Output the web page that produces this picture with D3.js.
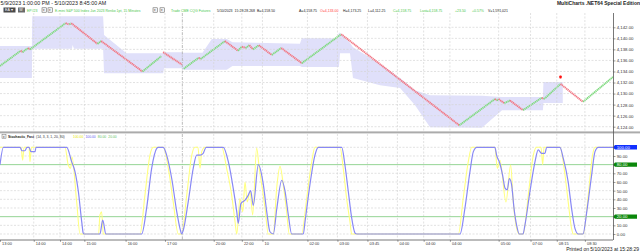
<!DOCTYPE html>
<html>
<head>
<meta charset="utf-8">
<script src="https://cdn.jsdelivr.net/npm/d3@7"></script>
<style>
  html, body { margin: 0; padding: 0; background: #fff; }
  svg { display: block; font-family: "Liberation Sans", Arial, sans-serif; }
</style>
</head>
<body>
<div id="chart"></div>
<script>
// ---- data ----
const titleRange = '5/9/2023 1:00:00 PM - 5/10/2023 8:45:00 AM';
const appName = 'MultiCharts .NET64 Special Edition';
const printedOn = 'Printed on 5/10/2023 at 15:28:29';

const toolbarText = ['EP#23', 'E-mini S&P 500 Index Jun 2023  Renko 1pt, 15 Minutes', 'Trade  CME  CQG  Futures',
  '5/10/2023', '15:28:28.268', 'B=4,158.50', 'A=4,158.75', 'O=4,133.00', 'H=4,173.25', 'L=4,112.25',
  'C=4,158.75', 'Last=4,158.75', '+23.50', '+0.57%', 'V=1,591,021'];
const toolbarKind = ['up', 'up', 'up', 'plain', 'plain', 'plain', 'plain', 'down', 'plain', 'plain',
  'up', 'up', 'up', 'up', 'plain'];

// renko reversal points (bar number, brick close); null = session gap
const renkoBar = [0, 11, 12, 15, 16, 35, 37, 38, 52, 54, 76, 86, null, 87, 97, null, 98, 106, 107, 120, 127,
  129, 131, 133, 135, 138, 145, 150, 161, 182, 245, 264, 265, 266, 269, 272, 279, 289, 290, 291, 299, 311, 327];
const renkoClose = [4135.0, 4137.75, 4137.5, 4138.25, 4138.0, 4142.75, 4142.5, 4142.75, 4139.0, 4139.5, 4134.0,
  4136.75, null, 4137.5, 4135.25, null, 4134.5, 4136.5, 4136.25, 4139.5, 4137.75, 4138.5, 4138.25, 4138.75,
  4138.0, 4138.75, 4137.0, 4138.25, 4135.5, 4140.75, 4124.25, 4129.0, 4128.75, 4129.0, 4128.25, 4128.75,
  4127.0, 4129.25, 4129.0, 4129.25, 4131.75, 4128.5, 4133.0];

// shaded envelope
const bandBar = [0, 17, 17.2, 38.4, 38.7, 39.5, 55, 55.5, 67.5, 87, 87.5, 97, 97.5, 108, 113, 121, 124, 160, 161,
  179.8, 180.8, 181.4, 186.7, 188.3, 202.7, 213.4, 221.4, 229.4, 257.1, 267.8, 289.6, 289.9, 300.2];
const bandHigh = [4138.6, 4138.6, 4144, 4144, 4144, 4144, 4144, 4140.6, 4137.3, 4137.3, 4137.5, 4137.5, 4137.4,
  4137.4, 4139.9, 4139.9, 4139.3, 4139.0, 4140.0, 4140.0, 4141.0, 4141.0, 4139.2, 4138.4, 4135.4, 4132.8,
  4130.6, 4129.7, 4129.6, 4129.4, 4129.4, 4132.1, 4132.1];
const bandLow = [4132.8, 4132.8, 4138.1, 4138.1, 4138.8, 4138.1, 4138.1, 4133.7, 4133.7, 4133.7, 4134.6, 4134.6,
  4134.3, 4134.3, 4134.3, 4134.3, 4135.0, 4135.0, 4134.8, 4134.8, 4134.8, 4137.3, 4137.3, 4132.8, 4131.5,
  4131.0, 4127.9, 4123.9, 4123.8, 4127.0, 4127.0, 4128.3, 4128.3];

const signalBar = [299];
const signalPrice = [4133.0];

// Stochastic_Fast: [bar, value]
const fastK = [[0,100],[11.2,100],[12.1,85],[12.8,100],[15.5,100],[16,83.5],[16.8,100],[34.7,100],[36.4,79.6],
  [37.7,75.8],[38.4,89],[40.9,37],[42.7,0],[52.6,0],[53.3,22],[54.2,25.6],[55.1,0],[74.7,0],[77.3,44.6],[80,91],
  [81.8,100],[87.1,100],[89.8,75.8],[92.4,37],[95.1,0],[96.9,0],[99.6,44.6],[102.3,91],[104,100],[105.6,100],
  [106.7,75.8],[107.6,95],[109.3,100],[118.3,100],[120.9,75.8],[123.6,44.6],[125.4,14],[126.3,0],[128,41],
  [129.5,25.6],[130.7,60],[131.9,37],[133.4,49],[134.8,22],[136.9,99],[138.3,75.8],[139.6,57],[141.4,29.6],
  [143.1,0],[145.8,0],[147.6,53],[149.4,78],[151.1,57],[152.9,25.6],[154.3,0],[160.9,0],[163.6,41],[166.3,83.5],
  [168,100],[181.4,100],[183.1,75.8],[184.9,41],[186.7,14],[187.6,0],[244.5,0],[247.1,41],[249.8,83.5],
  [251.6,100],[264,100],[265.3,75.8],[266.7,85],[269.9,37],[272.4,79.6],[273.8,37],[275.6,6.5],[277,0],
  [279.1,0],[281.8,44.6],[284.5,91],[286.3,100],[288.6,100],[289.5,80],[290.2,100],[298.7,100],[301.4,68],
  [303.1,37],[304.9,6.5],[305.8,0],[311.1,0],[313.8,44.6],[316.1,91],[317.4,100],[327,100]];
const fastD = [[0,80],[1.8,100],[10.7,100],[11.7,96],[13.3,96],[14.4,100],[15.5,100],[16.5,95],[18.7,95],
  [19.2,100],[35.6,100],[38.2,83.5],[40,72],[41.8,49],[43.6,14],[44.4,1],[44.8,0],[53.3,0],[54.8,16],[56.5,0],
  [75.6,0],[78.2,29.6],[80.9,75.8],[83.6,98.8],[84.4,100],[87.1,100],[88.9,91],[91.6,64],[94.3,25.6],[96,6.5],
  [96.9,0],[97.8,4.6],[100.4,37],[103.1,76],[104.9,91],[106.7,91],[108.4,93],[109.9,100],[119.1,100],
  [121.8,83.5],[124.4,53],[126.3,25.6],[127.1,12.3],[128.5,35],[130.7,39],[132.4,44.6],[133.7,50],[135.1,33],
  [137.8,80],[140.4,58],[142.3,25.6],[144,2.6],[145.8,0],[147.7,30],[150.3,62],[152,50],[153.8,22],[155.6,0],
  [161.8,0],[162.7,14],[165.4,58],[168,91],[169.8,100],[182.3,100],[184,79.6],[185.8,49],[187.6,18.5],
  [189.4,1],[190.3,0],[245.4,0],[248,29.6],[250.7,72],[252.5,95],[254.3,100],[264,100],[264.9,91],[266.7,81],
  [268.1,68],[269.4,53],[270.6,51],[271.7,64],[272.9,57],[274.2,29.6],[275.6,10],[277,0],[279,0],[280,10],
  [282.7,49],[285.4,83.5],[287.1,97],[288.9,93],[290.7,93],[291.6,100],[298.7,100],[300.5,87],[303.1,60],
  [304.9,29.6],[306.7,6.5],[308.5,0],[311,0],[313,25.6],[315.6,68],[317.4,95],[319.1,100],[327,100]];

const priceTicks = [4124, 4126, 4128, 4130, 4132, 4134, 4136, 4138, 4140, 4142];
const stochTicks = [0, 10, 20, 30, 40, 50, 60, 70, 80, 90, 100];
const stochLevels = [100, 80, 20];
const stochParams = ['Stochastic_Fast', '(14, 3, 3, 1, 20, 80)', '100.00', '100.00', '80.00', '20.00'];

const timeTickBar = [0, 18, 32, 45, 67, 88, 114, 129, 140, 164, 180, 196, 212, 226, 240, 266, 283, 297, 312];
const timeTickLabel = ['13:00', '14:00', '14:00', '15:00', '16:00', '17:00', '20:00', '22:00', '10', '02:00',
  '03:00', '03:45', '04:00', '04:00', '04:00', '05:00', '07:00', '08:15', '08:30'];
const sessionBreakBar = [97];

// ---- layout ----
const w = 640, h = 252;
const plotRight = 613;
const main = { top: 13, bottom: 131 };
const stoch = { top: 134, bottom: 239.5 };
const col = { up: '#80da80', down: '#f27884', text: '#222', grid: '#d6d6d6', band: '#e0e0fa',
  k: '#ffff80', d: '#8888f5', level: '#8ad08a', tbUp: '#4cc84c', tbDown: '#ff3b3b' };

const svg = d3.select('#chart').append('svg')
  .attr('width', w).attr('height', h)
  .attr('viewBox', `0 0 ${w} ${h}`);

const x = d3.scaleLinear().domain([0, 327]).range([0, plotRight]);
const yMain = d3.scaleLinear().domain([4124, 4142]).range([126.7, 27.3]);
const yStoch = d3.scaleLinear().domain([0, 100]).range([234, 147.3]);

// lay texts out left to right: wanted x, but never on top of the previous one
function flowTexts(g, texts, wantX, y, size, fill, weight) {
  let end = -Infinity;
  texts.forEach((t, i) => {
    const tx = g.append('text').attr('y', y).attr('font-size', size)
      .attr('font-weight', weight ? weight(i) : 'normal')
      .attr('fill', fill(i)).text(t);
    const xi = Math.max(wantX[i], end + 2);
    tx.attr('x', xi);
    end = xi + tx.node().getComputedTextLength();
  });
}

// clip areas
const defs = svg.append('defs');
defs.append('clipPath').attr('id', 'clip-main').append('rect')
  .attr('x', 0).attr('y', main.top).attr('width', plotRight).attr('height', main.bottom - main.top);
defs.append('clipPath').attr('id', 'clip-stoch').append('rect')
  .attr('x', 0).attr('y', stoch.top).attr('width', plotRight).attr('height', stoch.bottom - stoch.top);

// ---- header ----
svg.append('text').attr('x', 0.5).attr('y', 5.2)
  .attr('font-size', 5.3).attr('fill', col.text).text(titleRange);
svg.append('text').attr('x', 640).attr('y', 5.2).attr('text-anchor', 'end')
  .attr('font-size', 5).attr('font-weight', 'bold').attr('fill', '#222').text(appName);

// toolbar buttons
const tb = svg.append('g');
tb.append('rect').attr('x', 3.5).attr('y', 7.5).attr('width', 12).attr('height', 5).attr('fill', '#4a4a4a');
tb.append('text').attr('x', 5).attr('y', 11.4).attr('font-size', 3.6).attr('fill', '#fff').text('EA ▾');
tb.append('rect').attr('x', 18).attr('y', 7.5).attr('width', 7).attr('height', 5).attr('fill', '#6a6a6a');
tb.append('text').attr('x', 19.3).attr('y', 11.4).attr('font-size', 3.6).attr('fill', '#fff').text('W');
[42, 48, 153, 160].forEach(bx => {
  tb.append('rect').attr('x', bx).attr('y', 7.8).attr('width', 4.5).attr('height', 4.4)
    .attr('fill', '#f4f4f4').attr('stroke', '#555').attr('stroke-width', 0.5);
  tb.append('text').attr('x', bx + 2.25).attr('y', 11.2).attr('text-anchor', 'middle')
    .attr('font-size', 3.2).attr('fill', '#333').text('▾');
});
const toolbarX = [27, 55, 171, 217, 233, 253, 299, 320, 343, 368, 393, 420, 455, 472, 488];
flowTexts(tb, toolbarText, toolbarX, 11.5, 3.5,
  i => toolbarKind[i] === 'up' ? col.tbUp : toolbarKind[i] === 'down' ? col.tbDown : '#222');

// ---- main panel ----
const gMain = svg.append('g').attr('clip-path', 'url(#clip-main)');

const bandData = bandBar.map((b, i) => ({ b, hi: bandHigh[i], lo: bandLow[i] }));
gMain.append('path')
  .datum(bandData)
  .attr('fill', col.band)
  .attr('d', d3.area().x(d => x(d.b)).y0(d => yMain(d.lo)).y1(d => yMain(d.hi)));

gMain.selectAll('.hgrid').data(priceTicks).enter().append('line')
  .attr('x1', 0).attr('x2', plotRight)
  .attr('y1', d => yMain(d)).attr('y2', d => yMain(d))
  .attr('stroke', col.grid).attr('stroke-width', 0.7).attr('stroke-dasharray', '2,1.5');

// vertical grid through both panels
[main, stoch].forEach(p => {
  svg.append('g').selectAll('line').data(timeTickBar.slice(1)).enter().append('line')
    .attr('x1', d => x(d)).attr('x2', d => x(d))
    .attr('y1', p.top).attr('y2', p.bottom)
    .attr('stroke', col.grid).attr('stroke-width', 0.7).attr('stroke-dasharray', '2,1.5');
  svg.append('g').selectAll('line').data(sessionBreakBar).enter().append('line')
    .attr('x1', d => x(d) + 0.5).attr('x2', d => x(d) + 0.5)
    .attr('y1', p.top).attr('y2', p.bottom)
    .attr('stroke', '#a9a9a9').attr('stroke-width', 0.8).attr('stroke-dasharray', '3,1.2,1,1.2');
});

// renko bricks: one segment per run, green up / red down
const runs = [];
for (let i = 0; i < renkoBar.length - 1; i++) {
  if (renkoBar[i] === null || renkoBar[i + 1] === null) continue;
  runs.push({ b0: renkoBar[i], p0: renkoClose[i], b1: renkoBar[i + 1], p1: renkoClose[i + 1] });
}
gMain.selectAll('.run').data(runs).enter().append('line')
  .attr('x1', d => x(d.b0)).attr('y1', d => yMain(d.p0))
  .attr('x2', d => x(d.b1)).attr('y2', d => yMain(d.p1))
  .attr('stroke', d => d.p1 > d.p0 ? col.up : col.down)
  .attr('stroke-width', 1.9)
  .attr('stroke-dasharray', '1.3,0.5');

gMain.selectAll('.signal').data(signalBar).enter().append('rect')
  .attr('x', d => x(d) - 1.2).attr('y', (d, i) => yMain(signalPrice[i]) - 1.6)
  .attr('width', 2.4).attr('height', 3.2).attr('rx', 0.8)
  .attr('fill', '#ff1010');

// panel separator
svg.append('rect').attr('x', 0).attr('y', 131.3).attr('width', w).attr('height', 2.2).attr('fill', '#bdbdbd');
svg.append('line').attr('x1', 0).attr('x2', w).attr('y1', 132.4).attr('y2', 132.4)
  .attr('stroke', '#9a9a9a').attr('stroke-width', 0.6);

// ---- stochastic panel ----
const gSt = svg.append('g').attr('clip-path', 'url(#clip-stoch)');
gSt.selectAll('.sgrid').data(stochTicks.filter(v => v !== 80 && v !== 20)).enter().append('line')
  .attr('x1', 0).attr('x2', plotRight)
  .attr('y1', d => yStoch(d)).attr('y2', d => yStoch(d))
  .attr('stroke', col.grid).attr('stroke-width', 0.7).attr('stroke-dasharray', '2,1.5');
gSt.selectAll('.lvl').data([80, 20]).enter().append('line')
  .attr('x1', 0).attr('x2', plotRight)
  .attr('y1', d => yStoch(d)).attr('y2', d => yStoch(d))
  .attr('stroke', col.level).attr('stroke-width', 0.9);

const stLine = d3.line().x(d => x(d[0])).y(d => yStoch(d[1])).curve(d3.curveMonotoneX);
gSt.append('path').datum(fastK).attr('fill', 'none')
  .attr('stroke', col.k).attr('stroke-width', 1.1).attr('d', stLine);
gSt.append('path').datum(fastD).attr('fill', 'none')
  .attr('stroke', col.d).attr('stroke-width', 1.2).attr('d', stLine);

// stochastic header
const stHead = svg.append('g');
stHead.append('rect').attr('x', 2).attr('y', 134.6).attr('width', 4).attr('height', 3.6)
  .attr('fill', '#f2f2f2').attr('stroke', '#666').attr('stroke-width', 0.45);
stHead.append('text').attr('x', 4).attr('y', 137.5).attr('text-anchor', 'middle')
  .attr('font-size', 3).attr('fill', '#333').text('▾');
const stHeadX = [8, 35, 73, 85, 97, 107];
const stHeadCol = ['#222', '#333', '#e6e600', '#6464f0', '#5fbf5f', '#5fbf5f'];
flowTexts(stHead, stochParams, stHeadX, 137.8, 3.4, i => stHeadCol[i], i => i === 0 ? 'bold' : 'normal');

// ---- axes ----
const styleAxis = g => {
  g.select('.domain').remove();
  g.selectAll('.tick line').attr('stroke', '#555').attr('stroke-width', 0.6);
  g.selectAll('.tick text').attr('fill', '#333').attr('font-size', 4.3)
    .attr('font-family', '"Liberation Sans", Arial, sans-serif');
};

svg.append('g').attr('transform', `translate(${plotRight},0)`)
  .call(d3.axisRight(yMain).tickValues(priceTicks).tickFormat(d3.format(',.2f')).tickSize(2.5).tickPadding(1.2))
  .call(styleAxis);

svg.append('g').attr('transform', `translate(${plotRight},0)`)
  .call(d3.axisRight(yStoch).tickValues(stochTicks).tickFormat(d3.format('.2f')).tickSize(2.5).tickPadding(1.2))
  .call(styleAxis);

// boxed level markers on the stochastic scale
const lvlFill = v => v === 100 ? '#1030ff' : '#0a870a';
const lvl = svg.append('g').selectAll('g').data(stochLevels).enter().append('g')
  .attr('transform', d => `translate(${plotRight},${yStoch(d)})`);
lvl.append('path')
  .attr('d', 'M0,0 L2,-2.2 L24,-2.2 L24,2.2 L2,2.2 Z')
  .attr('fill', d => lvlFill(d));
lvl.append('text').attr('x', 3.7).attr('y', 1.5).attr('font-size', 4.3).attr('fill', '#fff')
  .text(d => d3.format('.2f')(d));

// right axis line
svg.append('line').attr('x1', plotRight + 0.5).attr('x2', plotRight + 0.5)
  .attr('y1', main.top).attr('y2', 240)
  .attr('stroke', '#555').attr('stroke-width', 0.8);

// time axis
const xAxis = svg.append('g').attr('transform', 'translate(0,240)')
  .call(d3.axisBottom(x).tickValues(timeTickBar).tickFormat((d, i) => timeTickLabel[i]).tickSize(1.8).tickPadding(0.5))
  .call(styleAxis);
xAxis.selectAll('.tick text').attr('text-anchor', 'start').attr('dx', 1.6).attr('font-size', 3.9);
svg.append('line').attr('x1', 0).attr('x2', plotRight).attr('y1', 240).attr('y2', 240)
  .attr('stroke', '#555').attr('stroke-width', 0.8);

svg.append('text').attr('x', 639).attr('y', 251.2).attr('text-anchor', 'end')
  .attr('font-size', 5).attr('fill', '#222').text(printedOn);
</script>
</body>
</html>
